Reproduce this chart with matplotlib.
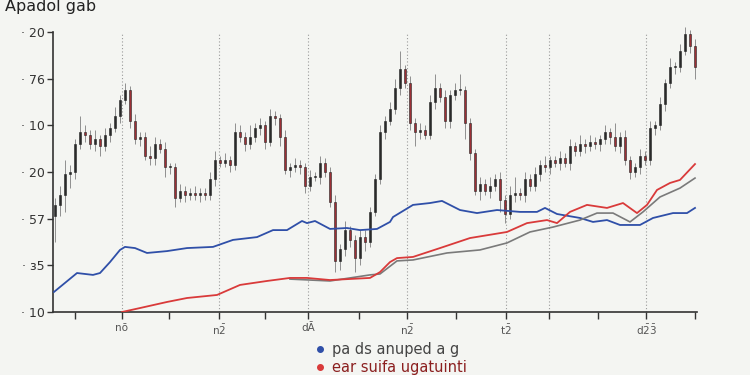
import numpy as np
import matplotlib
matplotlib.use("Agg")
import matplotlib.pyplot as plt
from matplotlib.lines import Line2D

# candle closes, one per session
closes = [46, 50, 59, 60, 72, 77, 76, 72, 74, 71,
          76, 79, 84, 91, 95, 82, 74, 75, 67, 66,
          72, 70, 62, 62, 49, 52, 50, 51, 50, 51,
          50, 57, 65, 64, 65, 63, 77, 75, 72, 75,
          79, 80, 73, 84, 83, 75, 61, 62, 63, 62,
          54, 58, 58, 64, 60, 47, 22, 27, 35, 31,
          23, 32, 30, 43, 57, 77, 82, 87, 96, 104,
          98, 81, 77, 78, 76, 90, 96, 92, 82, 93,
          95, 95, 81, 68, 52, 55, 52, 54, 57, 48,
          42, 50, 51, 50, 57, 54, 59, 63, 62, 65,
          64, 66, 64, 71, 69, 72, 71, 73, 72, 74,
          77, 75, 71, 75, 65, 60, 62, 67, 65, 79,
          80, 89, 98, 105, 105, 112, 119, 114, 105]
first_open = 41
wick_hi = [3, 4, 6, 3, 2, 7, 3, 2, 4, 2,
           3, 2, 4, 2, 3, 2, 3, 2, 2, 4,
           3, 2, 3, 2, 2, 3, 2, 2, 3, 2,
           2, 3, 4, 2, 3, 2, 4, 3, 2, 5,
           2, 3, 2, 3, 2, 2, 3, 2, 3, 2,
           2, 3, 2, 3, 2, 2, 3, 2, 4, 2,
           2, 3, 3, 2, 2, 3, 2, 3, 4, 8,
           2, 3, 2, 3, 2, 3, 6, 2, 3, 2,
           3, 7, 2, 2, 2, 3, 2, 4, 2, 3,
           2, 4, 7, 2, 3, 2, 3, 2, 4, 2,
           2, 3, 2, 3, 2, 4, 2, 3, 2, 2,
           3, 2, 6, 2, 3, 2, 2, 3, 2, 3,
           2, 3, 2, 4, 2, 3, 3, 2, 3]
wick_lo = [11, 5, 7, 6, 3, 2, 3, 2, 3, 4,
           2, 3, 2, 3, 2, 3, 2, 3, 2, 3,
           3, 2, 4, 3, 4, 2, 3, 2, 2, 3,
           2, 2, 3, 2, 2, 3, 2, 2, 3, 2,
           2, 3, 3, 2, 3, 4, 2, 3, 2, 3,
           3, 2, 2, 3, 2, 2, 5, 4, 3, 3,
           6, 3, 4, 2, 2, 2, 3, 2, 2, 3,
           2, 3, 6, 3, 2, 2, 3, 2, 3, 3,
           2, 2, 7, 3, 2, 4, 2, 3, 2, 5,
           4, 2, 3, 2, 3, 2, 2, 3, 2, 3,
           2, 3, 2, 3, 2, 2, 3, 2, 2, 3,
           2, 3, 2, 3, 2, 3, 2, 3, 2, 2,
           3, 2, 3, 2, 3, 2, 2, 3, 5]

# moving-average style lines (session, value)
blue_x = [-0.2, 4.4, 7.6, 9, 11, 13, 14, 16, 18.4, 22.4, 26.4, 31.6, 35.6, 40.4,
          43.6, 46.4, 49.4, 50.4, 52, 55, 58.4, 61, 64.4, 67, 67.6, 71.6, 75,
          77.4, 81, 84.4, 88.4, 93, 96.4, 98, 100.4, 105, 107.6, 110.4, 113,
          117, 119.6, 123.6, 126.4, 128]
blue_y = [8.6, 16.7, 15.9, 16.7, 21.4, 26.6, 27.9, 27.4, 25.3, 26.1, 27.4, 27.9,
          30.9, 32.1, 35.1, 35.1, 39, 38.1, 39, 35.6, 36, 35.1, 35.6, 38.6, 40.7,
          45.9, 46.7, 47.6, 43.7, 42.4, 43.7, 42.9, 42.9, 44.6, 42, 40.3, 38.6,
          39.4, 37.3, 37.3, 40.3, 42.4, 42.4, 44.6]
red_x = [13.4, 17, 22.4, 26.4, 32.4, 37, 42.4, 47, 50.4, 55, 63, 65, 67, 68.4,
         71.6, 77, 83, 90.4, 94.4, 98.4, 100.4, 103, 106.4, 110.4, 113.6, 116.4,
         118.4, 120.4, 123, 125, 128]
red_y = [0, 1.7, 4.3, 6, 7.3, 11.6, 13.3, 14.6, 14.6, 13.7, 14.6, 17.1, 21.4,
         23.1, 23.6, 27.4, 31.7, 34.3, 38.1, 39.4, 38.1, 42.9, 45.9, 44.6, 46.7,
         42.4, 45.9, 52.3, 55.3, 56.6, 63.4]
gray_x = [47, 55, 63, 65, 68.4, 71.6, 78.4, 85, 90.4, 95, 99.6, 105, 108.4,
          111.6, 115, 117.6, 121, 125, 128]
gray_y = [14.1, 13.3, 15.9, 16.3, 21.9, 22.3, 25.3, 26.6, 29.6, 34.3, 36.4,
          39.4, 42.4, 42.4, 38.6, 42.9, 49.3, 53.1, 57.4]

ytick_labels = ['10', 'ɜ5', '57', '20', '10', '76', '20']
xtick_pos = [4, 13.4, 22.8, 32.8, 42, 50.6, 60.8, 70.4, 80.2, 90.2, 98.8,
             108.6, 118.2, 128]
xtick_labels = ['', 'nō', '', r'n$\bar{2}$', '', 'dĀ', '', r'n$\bar{2}$', '',
                r't$\bar{2}$', '', '', r'd$\bar{2}\bar{3}$', '']
grid_pos = [13.4, 32.8, 50.6, 70.4, 90.2, 98.8, 118.2]
legend_labels = ['pa ds anuped a g', 'ear suifa ugatuinti']

bg = '#f4f5f2'
fig = plt.figure(figsize=(7.5, 3.75), dpi=100, facecolor=bg)
ax = fig.add_axes([53 / 750, 63 / 375, 644 / 750, 280 / 375], facecolor=bg)

for g in grid_pos:
    ax.axvline(g, color='#9a9a9a', ls=(0, (1, 2)), lw=0.8, zorder=0)

# candles
opens = [first_open] + closes[:-1]
for i, (o, c) in enumerate(zip(opens, closes)):
    hi = max(o, c) + wick_hi[i]
    lo = min(o, c) - wick_lo[i]
    ax.vlines(i, lo, hi, color='#8f8f8f', lw=0.7, zorder=2, clip_on=False)
    face = '#2a2a2a' if c >= o else '#9c2f35'
    h = abs(c - o) if abs(c - o) > 0.4 else 0.4
    ax.bar(i, h, bottom=min(o, c), width=0.5, color=face,
           edgecolor='#222222', lw=0.4, zorder=3)

ax.plot(blue_x, blue_y, color='#2f4fa8', lw=1.3, zorder=4)
ax.plot(gray_x, gray_y, color='#7a7a7a', lw=1.2, zorder=4)
ax.plot(red_x, red_y, color='#d93a3a', lw=1.3, zorder=5)

ax.set_xlim(-0.4, 128.4)
ax.set_ylim(0, 120)
ax.set_yticks(np.arange(0, 121, 20))
ax.set_yticklabels(['· ' + t for t in ytick_labels], fontsize=9, color='#333333')
ax.set_xticks(xtick_pos)
ax.set_xticklabels(xtick_labels, fontsize=7.5, color='#555555')
ax.tick_params(axis='x', length=5, width=1, color='#333333', pad=3)
ax.tick_params(axis='y', length=4, width=1, color='#333333', pad=2)
for s in ['top', 'right']:
    ax.spines[s].set_visible(False)
for s in ['left', 'bottom']:
    ax.spines[s].set_color('#333333')
    ax.spines[s].set_linewidth(1.2)

handles = [Line2D([], [], ls='none', marker='o', ms=4, color='#2f4fa8'),
           Line2D([], [], ls='none', marker='o', ms=4, color='#d93a3a')]
fig.legend(handles, legend_labels, loc='center', bbox_to_anchor=(0.52, 0.043),
           frameon=False, fontsize=10.5, labelcolor=['#444444', '#8b1f1f'],
           handletextpad=0.3, labelspacing=0.2, handlelength=1.0)

fig.text(0.007, 0.982, 'Apadol gab', fontsize=11.5, color='#222222', va='center')

fig.savefig('out.png', dpi=100, facecolor=bg)
